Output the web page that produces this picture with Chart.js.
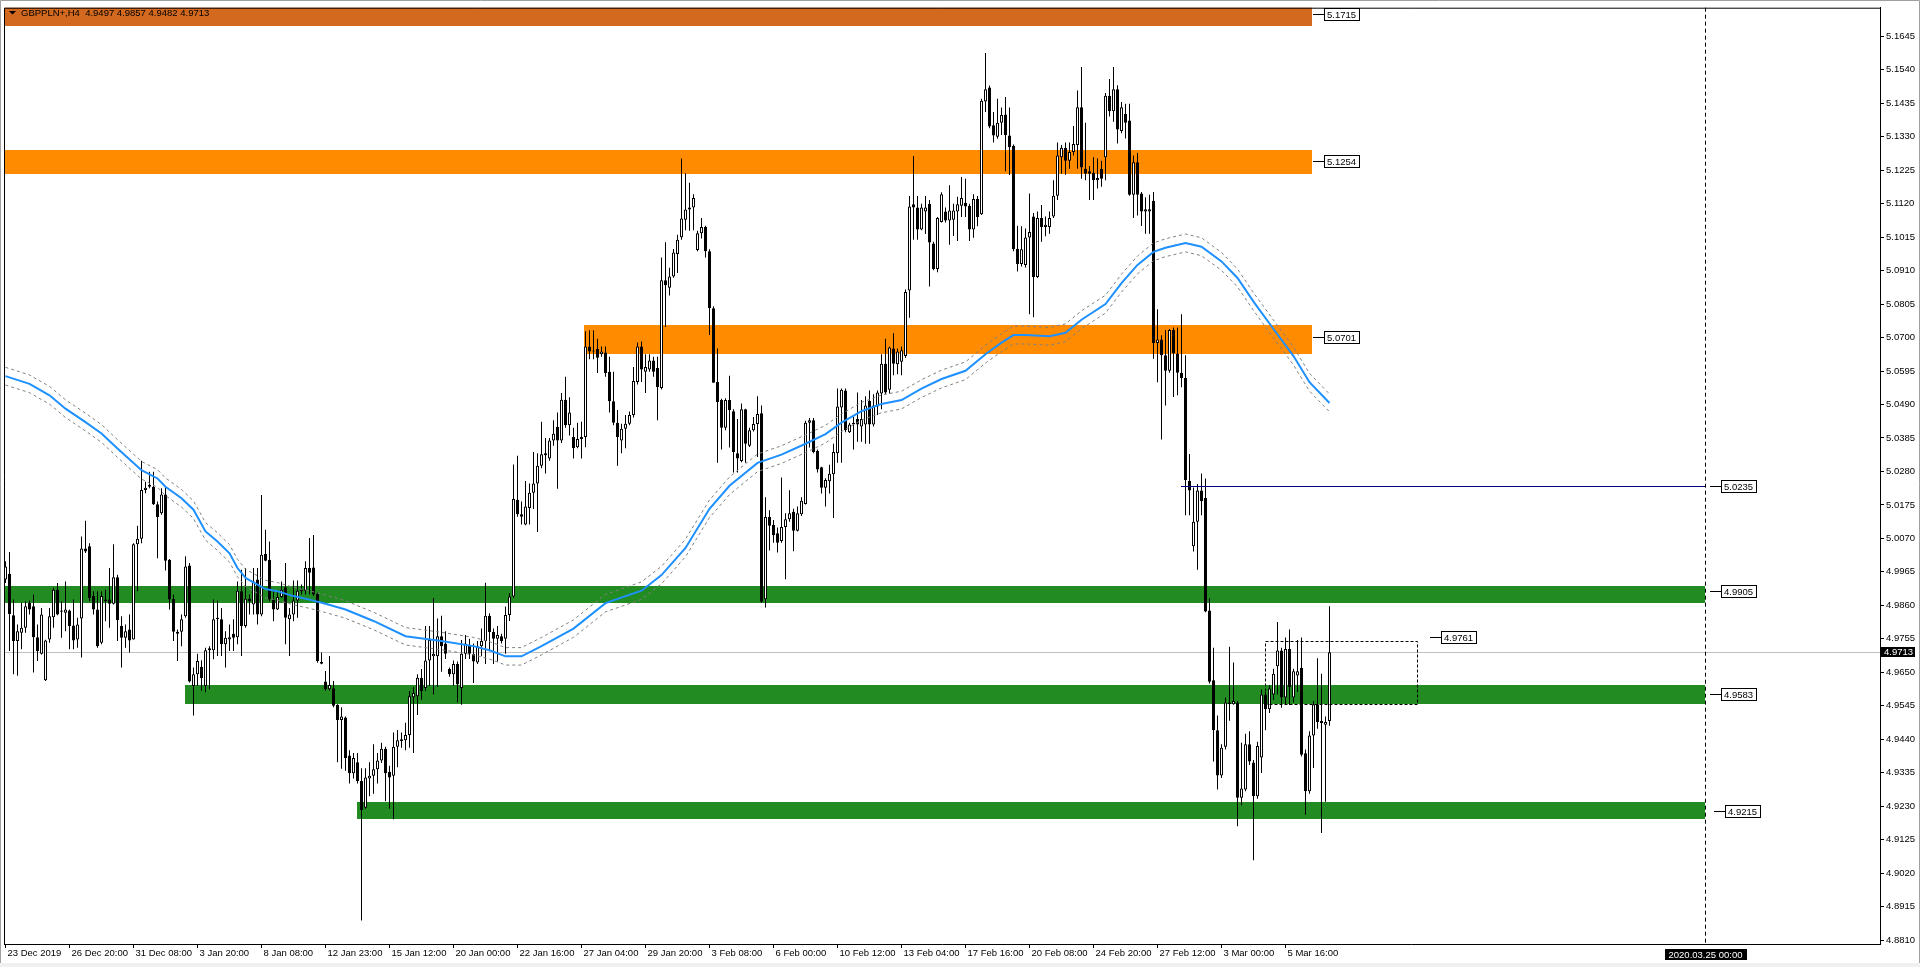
<!DOCTYPE html>
<html>
<head>
<meta charset="utf-8">
<title>GBPPLN+,H4</title>
<script src="https://cdn.jsdelivr.net/npm/chart.js@4.4.1/dist/chart.umd.min.js"></script>
<style>
  html, body { margin: 0; padding: 0; background: #ffffff; }
  canvas { display: block; }
</style>
</head>
<body>
<canvas id="Chart" width="1920" height="967"></canvas>
<script>
'use strict';
// ********************** DATA *********************

const symbolTitle = 'GBPPLN+,H4';

// one entry per H4 bar, oldest first (bar 0 = 23 Dec 2019 00:00)
const opens = [
  4.9941,4.9959,4.9829,4.9748,4.9774,4.9790,4.9868,4.9857,4.9760,4.9708,
  4.9625,4.9753,4.9823,4.9909,4.9844,4.9837,4.9844,4.9797,4.9753,4.9819,
  5.0038,5.0045,4.9889,4.9847,4.9743,4.9873,4.9878,4.9865,4.9948,4.9795,
  4.9758,4.9784,4.9753,5.0052,5.0069,5.0222,5.0232,5.0232,5.0177,5.0149,
  5.0208,5.0003,4.9880,4.9777,4.9777,4.9826,4.9985,4.9607,4.9644,4.9667,
  4.9607,4.9719,4.9719,4.9816,4.9816,4.9738,4.9753,4.9771,4.9760,4.9904,
  4.9795,4.9881,4.9863,4.9941,4.9831,5.0021,5.0003,4.9878,4.9847,4.9886,
  4.9917,4.9816,4.9831,4.9875,4.9904,4.9906,4.9977,4.9979,4.9896,4.9682,
  4.9621,4.9597,4.9600,4.9548,4.9500,4.9508,4.9389,4.9333,4.9368,4.9309,
  4.9225,4.9317,4.9325,4.9346,4.9373,4.9410,4.9338,4.9325,4.9416,4.9434,
  4.9437,4.9453,4.9572,4.9575,4.9633,4.9601,4.9687,4.9700,4.9700,4.9763,
  4.9740,4.9660,4.9644,4.9676,4.9601,4.9708,4.9735,4.9708,4.9681,4.9732,
  4.9748,4.9827,4.9776,4.9755,4.9763,4.9755,4.9830,4.9888,5.0191,5.0146,
  5.0114,5.0165,5.0213,5.0242,5.0298,5.0331,5.0321,5.0377,5.0420,5.0377,
  5.0505,5.0425,5.0388,5.0356,5.0382,5.0388,5.0672,5.0659,5.0664,5.0648,
  5.0653,5.0593,5.0500,5.0433,5.0377,5.0414,5.0430,5.0457,5.0561,5.0672,
  5.0593,5.0600,5.0628,5.0605,5.0542,5.0880,5.0856,5.0892,5.0962,5.1015,
  5.1070,5.1102,5.1108,5.0975,5.1027,5.1047,5.0971,5.0792,5.0561,5.0504,
  5.0417,5.0504,5.0469,5.0337,5.0313,5.0475,5.0361,5.0409,5.0429,5.0463,
  4.9879,5.0137,5.0113,5.0086,5.0062,5.0106,5.0130,5.0154,5.0094,5.0146,
  5.0178,5.0433,5.0441,5.0345,5.0293,5.0229,5.0249,5.0271,5.0337,5.0481,
  5.0534,5.0403,5.0427,5.0445,5.0421,5.0427,5.0501,5.0427,5.0484,5.0525,
  5.0618,5.0536,5.0666,5.0616,5.0624,5.0642,5.0848,5.1118,5.1108,5.1039,
  5.1096,5.1120,5.0995,5.0915,5.1063,5.1096,5.1067,5.1070,5.1096,5.1114,
  5.1123,5.1114,5.1039,5.1135,5.1087,5.1441,5.1485,5.1366,5.1330,5.1374,
  5.1400,5.1334,5.1302,5.0979,5.0931,5.0928,5.1014,5.1080,5.0890,5.1075,
  5.1047,5.1047,5.1080,5.1145,5.1266,5.1296,5.1255,5.1282,5.1304,5.1423,
  5.1230,5.1222,5.1217,5.1194,5.1230,5.1266,5.1459,5.1410,5.1479,5.1348,
  5.1402,5.1381,5.1148,5.1250,5.1152,5.1096,5.1096,5.1129,5.0683,5.0694,
  5.0645,5.0596,5.0724,5.0650,5.0590,5.0573,5.0250,5.0045,5.0122,5.0220,
  5.0197,4.9844,4.9625,4.9468,4.9326,4.9416,4.9550,4.9550,4.9555,4.9256,
  4.9282,4.9424,4.9367,4.9261,4.9383,4.9580,4.9534,4.9580,4.9669,4.9718,
  4.9571,4.9723,4.9571,4.9640,4.9664,4.9396,4.9277,4.9452,4.9550,4.9491,
  4.9485,4.9497
];
const highs = [
  4.9998,5.0027,4.9878,4.9800,4.9868,4.9873,4.9875,4.9894,4.9800,4.9852,
  4.9752,4.9852,4.9915,4.9930,4.9873,4.9935,4.9847,4.9878,4.9821,5.0076,
  5.0125,5.0055,4.9904,4.9904,4.9904,4.9909,4.9977,5.0052,4.9956,4.9826,
  4.9800,4.9831,5.0055,5.0110,5.0314,5.0248,5.0279,5.0279,5.0186,5.0227,
  5.0232,5.0005,4.9894,4.9784,4.9831,5.0014,4.9993,4.9665,4.9708,4.9688,
  4.9727,4.9732,4.9878,4.9875,4.9852,4.9779,4.9800,4.9816,4.9935,4.9972,
  4.9977,4.9894,4.9977,4.9977,5.0206,5.0097,5.0060,4.9909,4.9904,4.9935,
  4.9993,4.9852,4.9938,4.9938,4.9925,4.9998,5.0071,5.0081,4.9902,4.9712,
  4.9654,4.9701,4.9623,4.9550,4.9540,4.9511,4.9405,4.9397,4.9397,4.9349,
  4.9349,4.9368,4.9424,4.9397,4.9429,4.9416,4.9357,4.9461,4.9469,4.9461,
  4.9492,4.9591,4.9604,4.9644,4.9660,4.9795,4.9795,4.9883,4.9819,4.9827,
  4.9779,4.9665,4.9687,4.9684,4.9751,4.9767,4.9755,4.9740,4.9748,4.9787,
  4.9931,4.9835,4.9787,4.9795,4.9771,4.9856,4.9899,5.0302,5.0329,5.0186,
  5.0250,5.0242,5.0341,5.0337,5.0436,5.0385,5.0385,5.0441,5.0465,5.0526,
  5.0577,5.0513,5.0417,5.0433,5.0436,5.0720,5.0723,5.0723,5.0696,5.0672,
  5.0672,5.0640,5.0593,5.0473,5.0430,5.0457,5.0468,5.0608,5.0685,5.0688,
  5.0648,5.0648,5.0640,5.0640,5.0951,5.0999,5.0919,5.0978,5.1023,5.1262,
  5.1216,5.1186,5.1150,5.1035,5.1075,5.1051,5.0977,5.0798,5.0666,5.0508,
  5.0510,5.0580,5.0475,5.0445,5.0493,5.0477,5.0417,5.0451,5.0516,5.0487,
  5.0199,5.0158,5.0128,5.0104,5.0261,5.0149,5.0221,5.0163,5.0170,5.0199,
  5.0439,5.0448,5.0448,5.0349,5.0295,5.0259,5.0301,5.0367,5.0540,5.0540,
  5.0540,5.0433,5.0451,5.0528,5.0504,5.0516,5.0534,5.0522,5.0534,5.0648,
  5.0696,5.0672,5.0714,5.0666,5.0672,5.0851,5.1144,5.1270,5.1144,5.1120,
  5.1144,5.1132,5.1001,5.1078,5.1156,5.1108,5.1178,5.1120,5.1142,5.1204,
  5.1198,5.1120,5.1150,5.1144,5.1449,5.1593,5.1491,5.1408,5.1449,5.1422,
  5.1455,5.1422,5.1306,5.1051,5.1049,5.1042,5.1152,5.1091,5.1096,5.1116,
  5.1080,5.1096,5.1194,5.1312,5.1304,5.1312,5.1312,5.1364,5.1475,5.1549,
  5.1374,5.1238,5.1266,5.1263,5.1255,5.1467,5.1511,5.1549,5.1492,5.1439,
  5.1434,5.1434,5.1271,5.1279,5.1157,5.1140,5.1148,5.1157,5.0789,5.0707,
  5.0724,5.0727,5.0732,5.0732,5.0773,5.0645,5.0335,5.0230,5.0241,5.0274,
  5.0258,4.9882,4.9727,4.9514,4.9424,4.9571,4.9730,4.9681,4.9560,4.9429,
  4.9457,4.9465,4.9375,4.9432,4.9596,4.9588,4.9609,4.9661,4.9808,4.9727,
  4.9759,4.9784,4.9661,4.9751,4.9759,4.9408,4.9465,4.9560,4.9694,4.9645,
  4.9511,4.9857
];
const lows = [
  4.9930,4.9717,4.9644,4.9639,4.9722,4.9774,4.9831,4.9649,4.9685,4.9706,
  4.9623,4.9743,4.9790,4.9829,4.9758,4.9779,4.9722,4.9722,4.9727,4.9696,
  5.0024,4.9873,4.9831,4.9727,4.9738,4.9810,4.9790,4.9863,4.9748,4.9665,
  4.9727,4.9712,4.9753,4.9904,5.0055,5.0212,5.0227,5.0175,5.0008,5.0144,
  4.9969,4.9847,4.9748,4.9685,4.9732,4.9821,4.9618,4.9514,4.9607,4.9592,
  4.9587,4.9597,4.9691,4.9701,4.9701,4.9665,4.9717,4.9717,4.9738,4.9701,
  4.9790,4.9831,4.9831,4.9800,4.9826,4.9998,4.9873,4.9810,4.9845,4.9883,
  4.9738,4.9701,4.9810,4.9821,4.9894,4.9894,4.9894,4.9889,4.9680,4.9675,
  4.9592,4.9592,4.9540,4.9368,4.9347,4.9341,4.9301,4.9317,4.9301,4.8871,
  4.9222,4.9261,4.9269,4.9301,4.9365,4.9245,4.9222,4.9189,4.9352,4.9413,
  4.9405,4.9413,4.9397,4.9516,4.9564,4.9591,4.9607,4.9580,4.9604,4.9652,
  4.9692,4.9636,4.9607,4.9556,4.9548,4.9692,4.9692,4.9616,4.9676,4.9700,
  4.9676,4.9716,4.9676,4.9684,4.9740,4.9708,4.9811,4.9883,5.0138,5.0114,
  5.0111,5.0114,5.0162,5.0090,5.0290,5.0274,5.0314,5.0361,5.0226,5.0369,
  5.0417,5.0393,5.0321,5.0353,5.0321,5.0356,5.0632,5.0632,5.0589,5.0640,
  5.0577,5.0465,5.0425,5.0298,5.0337,5.0353,5.0425,5.0449,5.0553,5.0561,
  5.0526,5.0593,5.0577,5.0441,5.0537,5.0733,5.0832,5.0888,5.0903,5.1007,
  5.1037,5.1035,5.1037,5.0971,5.1011,5.0951,5.0708,5.0558,5.0307,5.0349,
  5.0409,5.0355,5.0277,5.0277,5.0309,5.0307,5.0357,5.0405,5.0325,4.9868,
  4.9853,5.0032,5.0056,5.0026,5.0056,4.9942,5.0122,5.0030,5.0092,5.0140,
  5.0176,5.0355,5.0337,5.0277,5.0211,5.0170,5.0211,5.0134,5.0307,5.0307,
  5.0403,5.0401,5.0349,5.0373,5.0373,5.0367,5.0367,5.0421,5.0457,5.0475,
  5.0522,5.0525,5.0582,5.0585,5.0582,5.0636,5.0762,5.1007,5.1007,5.1037,
  5.1025,5.0860,5.0911,5.0905,5.1061,5.1061,5.0991,5.1019,5.1003,5.1078,
  5.1078,5.1003,5.1013,5.1049,5.1085,5.1408,5.1357,5.1312,5.1324,5.1336,
  5.1222,5.1210,5.0971,5.0907,5.0923,5.0920,5.0773,5.0764,5.0887,5.1001,
  5.1018,5.1026,5.1075,5.1132,5.1214,5.1211,5.1230,5.1271,5.1230,5.1198,
  5.1194,5.1132,5.1132,5.1168,5.1173,5.1194,5.1394,5.1377,5.1309,5.1341,
  5.1325,5.1145,5.1075,5.1083,5.1050,5.1026,5.1026,5.0634,5.0560,5.0380,
  5.0487,5.0590,5.0514,5.0519,5.0544,5.0143,5.0143,5.0029,4.9972,5.0143,
  4.9838,4.9615,4.9370,4.9282,4.9318,4.9408,4.9498,4.9548,4.9167,4.9233,
  4.9277,4.9359,4.9060,4.9253,4.9334,4.9468,4.9522,4.9563,4.9580,4.9539,
  4.9547,4.9547,4.9555,4.9588,4.9386,4.9203,4.9269,4.9350,4.9473,4.9146,
  4.9244,4.9482
];
const closes = [
  4.9982,4.9833,4.9748,4.9779,4.9790,4.9857,4.9847,4.9760,4.9717,4.9831,
  4.9750,4.9826,4.9909,4.9831,4.9840,4.9847,4.9795,4.9750,4.9800,5.0038,
  5.0029,4.9883,4.9847,4.9732,4.9889,4.9878,4.9865,4.9948,4.9813,4.9758,
  4.9779,4.9750,5.0052,5.0069,5.0222,5.0229,5.0238,5.0177,5.0137,5.0208,
  5.0000,4.9878,4.9777,4.9771,4.9816,4.9982,4.9621,4.9644,4.9685,4.9631,
  4.9719,4.9725,4.9816,4.9821,4.9738,4.9758,4.9760,4.9758,4.9906,4.9795,
  4.9881,4.9873,4.9935,4.9831,5.0019,5.0000,4.9878,4.9847,4.9886,4.9909,
  4.9821,4.9831,4.9875,4.9906,4.9909,4.9977,4.9962,4.9894,4.9685,4.9677,
  4.9597,4.9610,4.9545,4.9500,4.9511,4.9381,4.9333,4.9381,4.9309,4.9218,
  4.9320,4.9325,4.9346,4.9373,4.9410,4.9333,4.9320,4.9416,4.9437,4.9440,
  4.9453,4.9575,4.9585,4.9633,4.9591,4.9687,4.9751,4.9708,4.9763,4.9732,
  4.9708,4.9644,4.9676,4.9612,4.9708,4.9740,4.9708,4.9684,4.9732,4.9748,
  4.9827,4.9776,4.9755,4.9767,4.9748,4.9830,4.9888,5.0194,5.0146,5.0138,
  5.0170,5.0213,5.0242,5.0298,5.0334,5.0337,5.0377,5.0398,5.0377,5.0505,
  5.0425,5.0465,5.0353,5.0382,5.0388,5.0672,5.0656,5.0656,5.0637,5.0656,
  5.0589,5.0500,5.0433,5.0388,5.0414,5.0430,5.0457,5.0564,5.0672,5.0600,
  5.0608,5.0628,5.0593,5.0545,5.0880,5.0864,5.0892,5.0967,5.1007,5.1074,
  5.1102,5.1108,5.1138,5.1027,5.1047,5.0971,5.0792,5.0558,5.0498,5.0417,
  5.0504,5.0472,5.0341,5.0321,5.0475,5.0367,5.0409,5.0429,5.0460,4.9871,
  5.0137,5.0110,5.0080,5.0056,5.0106,5.0130,5.0149,5.0094,5.0149,5.0188,
  5.0433,5.0441,5.0341,5.0286,5.0229,5.0253,5.0273,5.0341,5.0484,5.0536,
  5.0409,5.0427,5.0433,5.0427,5.0445,5.0487,5.0427,5.0487,5.0528,5.0618,
  5.0528,5.0669,5.0618,5.0656,5.0660,5.0843,5.1111,5.1108,5.1039,5.1108,
  5.1108,5.0998,5.0915,5.1075,5.1150,5.1067,5.1099,5.1099,5.1118,5.1138,
  5.1111,5.1039,5.1135,5.1078,5.1443,5.1479,5.1362,5.1334,5.1374,5.1398,
  5.1336,5.1297,5.0977,5.0931,5.0977,5.1014,5.1031,5.0890,5.1075,5.1047,
  5.1054,5.1075,5.1145,5.1271,5.1296,5.1255,5.1282,5.1307,5.1423,5.1234,
  5.1214,5.1214,5.1194,5.1201,5.1198,5.1459,5.1410,5.1479,5.1353,5.1423,
  5.1374,5.1148,5.1250,5.1148,5.1096,5.1103,5.1103,5.0683,5.0694,5.0645,
  5.0596,5.0724,5.0650,5.0590,5.0573,5.0253,5.0220,5.0122,5.0220,5.0187,
  4.9841,4.9620,4.9468,4.9326,4.9413,4.9555,4.9555,4.9560,4.9256,4.9285,
  4.9424,4.9370,4.9261,4.9419,4.9580,4.9534,4.9599,4.9645,4.9718,4.9571,
  4.9723,4.9604,4.9653,4.9653,4.9391,4.9277,4.9452,4.9550,4.9494,4.9497,
  4.9494,4.9713
];

// time axis: one label every 16 bars
const timeLabels = [
  '23 Dec 2019', '26 Dec 20:00', '31 Dec 08:00', '3 Jan 20:00', '8 Jan 08:00',
  '12 Jan 23:00', '15 Jan 12:00', '20 Jan 00:00', '22 Jan 16:00', '27 Jan 04:00',
  '29 Jan 20:00', '3 Feb 08:00', '6 Feb 00:00', '10 Feb 12:00', '13 Feb 04:00',
  '17 Feb 16:00', '20 Feb 08:00', '24 Feb 20:00', '27 Feb 12:00', '3 Mar 00:00',
  '5 Mar 16:00'
];
const barsPerTimeLabel = 16;

// price axis labels
const priceTicks = [
  4.8810, 4.8915, 4.9020, 4.9125, 4.9230, 4.9335, 4.9440, 4.9545, 4.9650, 4.9755,
  4.9860, 4.9965, 5.0070, 5.0175, 5.0280, 5.0385, 5.0490, 5.0595, 5.0700, 5.0805,
  5.0910, 5.1015, 5.1120, 5.1225, 5.1330, 5.1435, 5.1540, 5.1645
];
const priceMin = 4.87975;
const priceMax = 5.17350;

// moving average (blue) read at these bars, plus its envelope
const maBars = [
  0, 6, 11, 15, 20, 24, 28, 34, 38, 40, 44, 47, 50, 53, 56, 58, 60, 63, 65, 68,
  72, 76, 80, 85, 92, 100, 109, 117, 121, 125, 129, 134, 142, 150, 159, 164, 170,
  176, 181, 188, 194, 200, 205, 209, 214, 219, 224, 229, 234, 240, 245, 249, 252,
  255, 261, 265, 269, 275, 279, 283, 287, 290, 295, 299, 304, 308, 312, 317, 322,
  326, 331
];
const maValues = [
  5.0579, 5.0555, 5.0519, 5.0477, 5.0435, 5.0399, 5.0352, 5.0284, 5.0258, 5.0232,
  5.0196, 5.0160, 5.0092, 5.0060, 5.0023, 4.9977, 4.9946, 4.9925, 4.9911, 4.9904,
  4.9889, 4.9878, 4.9865, 4.9847, 4.9811, 4.9763, 4.9748, 4.9732, 4.9719, 4.9700,
  4.9700, 4.9732, 4.9787, 4.9867, 4.9906, 4.9955, 5.0040, 5.0163, 5.0235, 5.0307,
  5.0333, 5.0367, 5.0397, 5.0433, 5.0469, 5.0492, 5.0504, 5.0540, 5.0570, 5.0596,
  5.0648, 5.0684, 5.0708, 5.0708, 5.0704, 5.0715, 5.0756, 5.0805, 5.0871, 5.0928,
  5.0969, 5.0982, 5.0997, 5.0985, 5.0939, 5.0887, 5.0813, 5.0727, 5.0642, 5.0560,
  5.0495
];
const envelopeDeviation = 0.00055;

// rectangles: price top / bottom, first / last bar
const zoneLevels  = [5.1715, 5.1254, 5.0701, 4.9905, 4.9583, 4.9215];
const zoneTops    = [5.1760, 5.1288, 5.0738, 4.9922, 4.9610, 4.9244];
const zoneBottoms = [5.1679, 5.1213, 5.0648, 4.9866, 4.9552, 4.9189];
const zoneStarts  = [-0.375, -0.375, 144.625, -0.375, 44.875, 87.875];
const zoneEnds    = [326.625, 326.625, 326.625, 424.875, 424.875, 424.875];
const zoneTagBars = [326.9, 326.9, 326.9, 426.1, 426.1, 427.2];

const bidPrice = 4.9713;
const supportLevel = 5.0235;
const supportFrom = 293.875;
const supportTo = 424.875;
const boxTop = 4.9747;
const boxBottom = 4.9550;
const boxFrom = 314.875;
const boxTo = 352.875;
const boxTagLevel = 4.9761;
const boxTagBar = 356.1;
const futureBar = 425;
const futureLabel = '2020.03.25 00:00';
const totalSlots = 469;

// ********************* STYLES ********************
const fontFamily = '"Liberation Sans", Arial, sans-serif';
const fontSize = 9.5;
const zoneColors = ['#d2691e', '#ff8c00', '#ff8c00', '#228b22', '#228b22', '#228b22'];

Chart.defaults.font.family = fontFamily;
Chart.defaults.font.size = fontSize;
Chart.defaults.color = '#000000';

// ********************* CANVAS ELEM FOR CHART ********************
let canvasElem = document.getElementById('Chart');

// ********************* HELPER FUNCTIONS ****************
function crisp(v) {
  return Math.round(v) + 0.5;
}

function drawTag(ctx, x0, py, text) {
  let yy = crisp(py);
  ctx.strokeStyle = '#000000';
  ctx.lineWidth = 1;
  ctx.beginPath();
  ctx.moveTo(Math.round(x0), yy);
  ctx.lineTo(Math.round(x0) + 11, yy);
  ctx.stroke();
  let w = Math.ceil(ctx.measureText(text).width) + 5;
  let bx = Math.round(x0) + 11 + 0.5;
  let by = Math.round(py) - 6 + 0.5;
  ctx.fillStyle = '#ffffff';
  ctx.fillRect(bx, by, w, 12);
  ctx.strokeRect(bx, by, w, 12);
  ctx.fillStyle = '#000000';
  ctx.textAlign = 'left';
  ctx.textBaseline = 'middle';
  ctx.fillText(text, bx + 2.5, yy + 0.5);
}

const overlayPlugin = {
  id: 'overlay',
  beforeDatasetsDraw(chart) {
    let { ctx, chartArea: a, scales: { x, y } } = chart;
    ctx.save();
    ctx.beginPath();
    ctx.rect(a.left, a.top, a.right - a.left, a.bottom - a.top);
    ctx.clip();
    zoneTops.forEach((top, i) => {
      let x1 = Math.round(x.getPixelForValue(zoneStarts[i]));
      let x2 = Math.round(x.getPixelForValue(zoneEnds[i]));
      let y1 = Math.round(y.getPixelForValue(top));
      let y2 = Math.round(y.getPixelForValue(zoneBottoms[i]));
      ctx.fillStyle = zoneColors[i];
      ctx.fillRect(x1, y1, x2 - x1, y2 - y1);
    });
    let py = crisp(y.getPixelForValue(bidPrice));
    ctx.strokeStyle = '#c0c0c0';
    ctx.lineWidth = 1;
    ctx.beginPath();
    ctx.moveTo(a.left, py);
    ctx.lineTo(a.right, py);
    ctx.stroke();
    ctx.restore();
  },
  afterDatasetsDraw(chart) {
    let { ctx, chartArea: a, scales: { x, y } } = chart;
    ctx.save();
    ctx.font = fontSize + 'px ' + fontFamily;

    // support line
    let sy = crisp(y.getPixelForValue(supportLevel));
    ctx.strokeStyle = '#000080';
    ctx.lineWidth = 1;
    ctx.beginPath();
    ctx.moveTo(Math.round(x.getPixelForValue(supportFrom)), sy);
    ctx.lineTo(Math.round(x.getPixelForValue(supportTo)), sy);
    ctx.stroke();

    // dashed box
    ctx.strokeStyle = '#000000';
    ctx.setLineDash([3, 2]);
    let bx1 = crisp(x.getPixelForValue(boxFrom));
    let bx2 = crisp(x.getPixelForValue(boxTo));
    let by1 = crisp(y.getPixelForValue(boxTop));
    let by2 = crisp(y.getPixelForValue(boxBottom));
    ctx.strokeRect(bx1, by1, bx2 - bx1, by2 - by1);

    // future time line
    let fx = Math.floor(x.getPixelForValue(futureBar)) + 0.5;
    ctx.setLineDash([4, 3]);
    ctx.beginPath();
    ctx.moveTo(fx, a.top);
    ctx.lineTo(fx, a.bottom);
    ctx.stroke();
    ctx.setLineDash([]);

    // price tags
    zoneLevels.forEach((lvl, i) => {
      drawTag(ctx, x.getPixelForValue(zoneTagBars[i]), y.getPixelForValue(lvl), lvl.toFixed(4));
    });
    drawTag(ctx, x.getPixelForValue(426.1), y.getPixelForValue(supportLevel), supportLevel.toFixed(4));
    drawTag(ctx, x.getPixelForValue(boxTagBar), y.getPixelForValue(boxTagLevel), boxTagLevel.toFixed(4));

    // header
    let last = opens.length - 1;
    let header = symbolTitle + '  ' + opens[last].toFixed(4) + ' ' + highs[last].toFixed(4) + ' ' +
      lows[last].toFixed(4) + ' ' + closes[last].toFixed(4);
    ctx.fillStyle = '#000000';
    ctx.beginPath();
    ctx.moveTo(9, 11);
    ctx.lineTo(16, 11);
    ctx.lineTo(12.5, 14.5);
    ctx.closePath();
    ctx.fill();
    ctx.textAlign = 'left';
    ctx.textBaseline = 'middle';
    ctx.fillText(header, 21, 13.5);
    ctx.restore();
  },
  afterDraw(chart) {
    let { ctx, chartArea: a, scales: { x, y } } = chart;
    ctx.save();
    ctx.font = fontSize + 'px ' + fontFamily;

    // frame
    ctx.strokeStyle = '#000000';
    ctx.lineWidth = 1;
    ctx.beginPath();
    ctx.moveTo(a.left + 0.5, a.bottom);
    ctx.lineTo(a.left + 0.5, a.top + 0.5);
    ctx.lineTo(a.right, a.top + 0.5);
    ctx.stroke();

    // bid tag on the price axis
    let py = Math.round(y.getPixelForValue(bidPrice));
    ctx.fillStyle = '#000000';
    ctx.fillRect(a.right, py - 5, 35, 10);
    ctx.fillStyle = '#ffffff';
    ctx.textAlign = 'left';
    ctx.textBaseline = 'middle';
    ctx.fillText(bidPrice.toFixed(4), a.right + 4, py + 0.5);

    // future date tag on the time axis
    let fx = Math.floor(x.getPixelForValue(futureBar)) + 0.5;
    let tw = Math.ceil(ctx.measureText(futureLabel).width) + 8;
    ctx.fillStyle = '#000000';
    ctx.fillRect(Math.round(fx - tw / 2), a.bottom + 5, tw, 11);
    ctx.fillStyle = '#ffffff';
    ctx.textAlign = 'center';
    ctx.fillText(futureLabel, fx, a.bottom + 11);

    // window edges
    ctx.strokeStyle = '#a0a0a0';
    ctx.beginPath();
    ctx.moveTo(0.5, 967);
    ctx.lineTo(0.5, 0.5);
    ctx.lineTo(1919.5, 0.5);
    ctx.lineTo(1919.5, 967);
    ctx.stroke();
    ctx.fillStyle = '#f0f0f0';
    ctx.fillRect(0, 963, 1920, 4);
    ctx.restore();
  }
};

// ********************* THIS FUNCTION RENDERS THE CHART ************************
function renderChart() {
  let bodyData = opens.map((o, i) => ({ x: i, y: [Math.min(o, closes[i]), Math.max(o, closes[i])] }));
  let wickData = opens.map((o, i) => ({
    x: i,
    y: [Math.min(lows[i], o, closes[i]), Math.max(highs[i], o, closes[i])]
  }));
  let bodyColors = opens.map((o, i) => (closes[i] >= o ? '#ffffff' : '#000000'));
  let maData = maBars.map((b, i) => ({ x: b, y: maValues[i] }));
  let envUpper = maBars.map((b, i) => ({ x: b, y: maValues[i] * (1 + envelopeDeviation) }));
  let envLower = maBars.map((b, i) => ({ x: b, y: maValues[i] * (1 - envelopeDeviation) }));

  let chartObj = {
    type: 'bar',
    data: {
      datasets: [
        {
          type: 'line',
          label: 'MA',
          data: maData,
          borderColor: '#1e90ff',
          borderWidth: 2,
          pointRadius: 0,
          tension: 0,
          order: 1
        },
        {
          type: 'line',
          label: 'Envelope upper',
          data: envUpper,
          borderColor: '#808080',
          borderWidth: 1,
          borderDash: [3, 3],
          pointRadius: 0,
          tension: 0,
          order: 2
        },
        {
          type: 'line',
          label: 'Envelope lower',
          data: envLower,
          borderColor: '#808080',
          borderWidth: 1,
          borderDash: [3, 3],
          pointRadius: 0,
          tension: 0,
          order: 2
        },
        {
          label: 'Body',
          data: bodyData,
          backgroundColor: bodyColors,
          borderColor: '#000000',
          borderWidth: 1,
          borderSkipped: false,
          barThickness: 3,
          minBarLength: 1,
          inflateAmount: 0,
          grouped: false,
          order: 3
        },
        {
          label: 'Wick',
          data: wickData,
          backgroundColor: '#000000',
          borderWidth: 0,
          barThickness: 1,
          minBarLength: 1,
          inflateAmount: 0,
          grouped: false,
          order: 4
        }
      ]
    },
    options: {
      responsive: false,
      animation: false,
      devicePixelRatio: 1,
      events: [],
      layout: { padding: { left: 4, top: 4, right: 0, bottom: 0 } },
      plugins: { legend: { display: false }, tooltip: { enabled: false } },
      scales: {
        x: {
          type: 'linear',
          position: 'bottom',
          min: -0.375,
          max: -0.375 + totalSlots,
          offset: false,
          afterFit: (s) => { s.height = 23; },
          afterBuildTicks: (s) => {
            s.ticks = timeLabels.map((_, i) => ({ value: i * barsPerTimeLabel }));
          },
          grid: { display: true, drawOnChartArea: false, drawTicks: true, tickLength: 4, color: '#000000', offset: false },
          border: { display: true, color: '#000000', width: 1 },
          ticks: {
            autoSkip: false,
            maxRotation: 0,
            minRotation: 0,
            align: 'start',
            labelOffset: 2,
            padding: 0,
            color: '#000000',
            callback: (v) => timeLabels[Math.round(v / barsPerTimeLabel)]
          }
        },
        y: {
          type: 'linear',
          position: 'right',
          min: priceMin,
          max: priceMax,
          afterFit: (s) => { s.width = 40; },
          afterBuildTicks: (s) => {
            s.ticks = priceTicks.map((v) => ({ value: v }));
          },
          grid: { display: true, drawOnChartArea: false, drawTicks: true, tickLength: 4, color: '#000000' },
          border: { display: true, color: '#000000', width: 1 },
          ticks: {
            padding: 2,
            crossAlign: 'near',
            color: '#000000',
            callback: (v) => Number(v).toFixed(4)
          }
        }
      }
    },
    plugins: [overlayPlugin]
  };
  new Chart(canvasElem, chartObj);
}

// ******************** EXECUTABLE CODE **************************
renderChart();
</script>
</body>
</html>
